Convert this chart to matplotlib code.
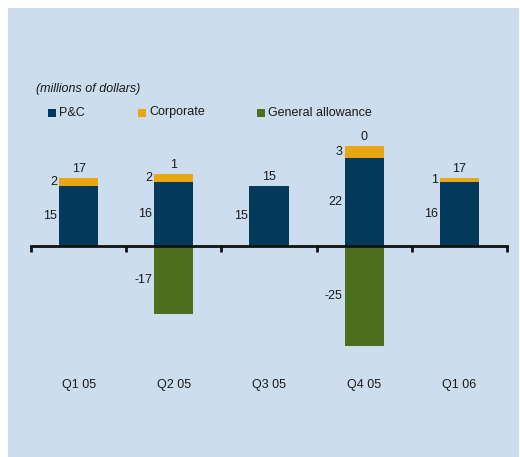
import matplotlib
matplotlib.use("Agg")
import matplotlib.pyplot as plt
from matplotlib.patches import Rectangle

plt.rcParams['font.family'] = ['Liberation Sans', 'DejaVu Sans']

quarters = ["Q1 05", "Q2 05", "Q3 05", "Q4 05", "Q1 06"]
pc = [15, 16, 15, 22, 16]
corporate = [2, 2, 0, 3, 1]
general_allowance = [0, -17, 0, -25, 0]
totals = [17, 1, 15, 0, 17]

C_PC = "#033a5c"
C_CORP = "#e8a613"
C_GA = "#4b6f1c"
C_BG = "#ccdded"
C_TXT = "#1a1a1a"

W, H = 520, 457
fig = plt.figure(figsize=(W / 100, H / 100), dpi=100)
fig.patch.set_facecolor("white")
fig.patches.append(Rectangle((8 / W, 0), (519 - 8) / W, (H - 8) / H,
                             transform=fig.transFigure, facecolor=C_BG,
                             edgecolor="none", zorder=-5))

# axes placement: zero line at y=246 px, 4 px per unit
top_px, bot_px, zero_px, ppu = 50, 400, 246, 4.0
ax = fig.add_axes([31 / W, (H - bot_px) / H, (507 - 31) / W, (bot_px - top_px) / H])
ax.set_facecolor("none")
ax.set_zorder(1)
ax.set_xlim(-0.5, len(quarters) - 0.5)
ax.set_ylim(-(bot_px - zero_px) / ppu, (zero_px - top_px) / ppu)

x = list(range(len(quarters)))
bw = 0.41
ax.bar(x, pc, width=bw, color=C_PC, zorder=2)
ax.bar(x, corporate, width=bw, bottom=pc, color=C_CORP, zorder=2)
ax.bar(x, general_allowance, width=bw, color=C_GA, zorder=2)

for s in ["top", "right", "left"]:
    ax.spines[s].set_visible(False)
ax.spines["bottom"].set_position(("data", 0))
ax.spines["bottom"].set_linewidth(2)
ax.spines["bottom"].set_color("#111111")
ax.spines["bottom"].set_zorder(3)
ax.set_yticks([])
ax.set_xticks([i - 0.5 for i in range(len(quarters) + 1)])
ax.set_xticklabels([])
ax.tick_params(axis="x", direction="out", length=4, width=2, color="#111111")

fs = 9
for i in x:
    left = i - bw / 2 - 0.02
    # P&C segment label
    ax.text(left, pc[i] / 2, str(pc[i]), ha="right", va="center", fontsize=fs, color=C_TXT)
    # Corporate segment label
    if corporate[i]:
        ax.text(left, pc[i] + corporate[i] / 2, str(corporate[i]), ha="right",
                va="center", fontsize=fs, color=C_TXT)
    # General allowance label
    if general_allowance[i]:
        ax.text(left, general_allowance[i] / 2, str(general_allowance[i]), ha="right",
                va="center", fontsize=fs, color=C_TXT)
    # total above the bar
    top = pc[i] + corporate[i]
    ax.annotate(str(totals[i]), (i, top), xytext=(0, 2), textcoords="offset points",
                ha="center", va="bottom", fontsize=fs, color=C_TXT)
    # category label
    ax.text(i, -(385 - zero_px) / ppu, quarters[i], ha="center", va="center",
            fontsize=fs, color=C_TXT)

# units note and legend
fig.text(36 / W, 1 - 89 / H, "(millions of dollars)", style="italic",
         fontsize=fs, color=C_TXT, ha="left", va="center")
legend_items = [("P&C", C_PC, 48), ("Corporate", C_CORP, 138),
                ("General allowance", C_GA, 257)]
for label, col, px in legend_items:
    fig.patches.append(Rectangle((px / W, 1 - 117 / H), 8 / W, 8 / H,
                                 transform=fig.transFigure, facecolor=col,
                                 edgecolor="none", zorder=3))
    fig.text((px + 11) / W, 1 - 112.5 / H, label, fontsize=fs, color=C_TXT,
             ha="left", va="center")

fig.savefig("out.png", dpi=100, facecolor=fig.get_facecolor())
